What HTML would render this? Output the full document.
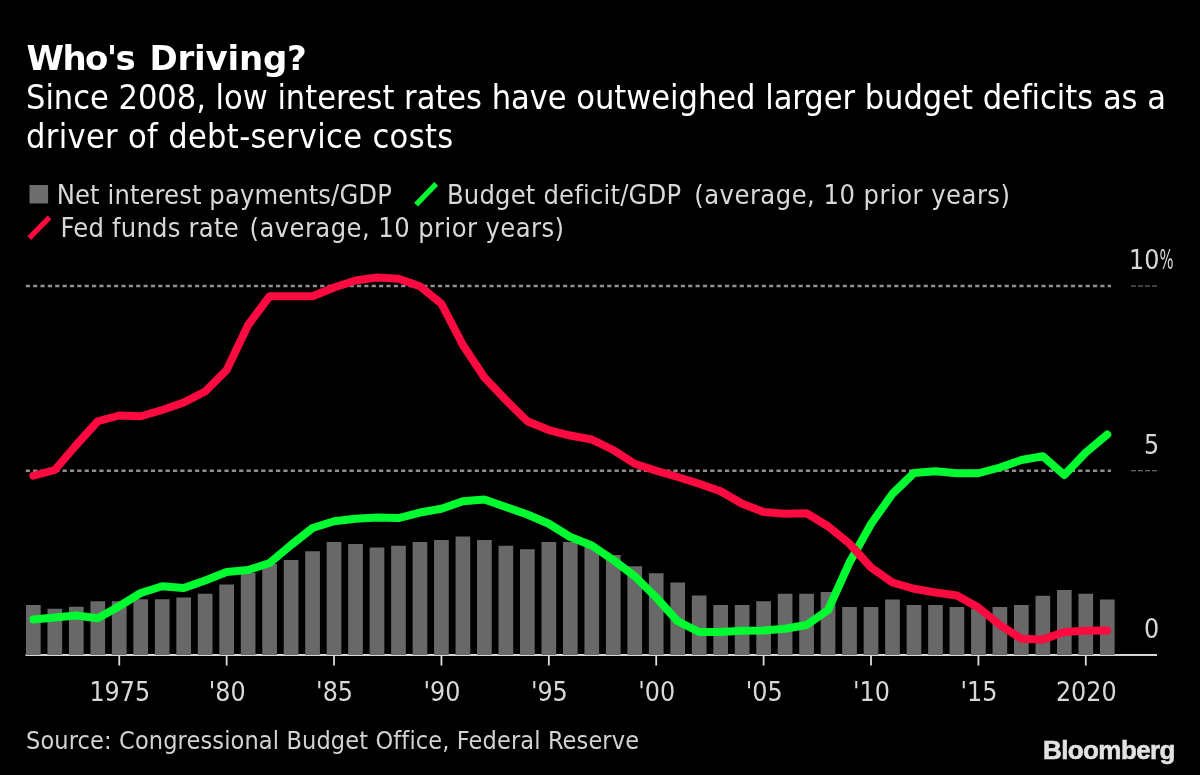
<!DOCTYPE html>
<html lang="en"><head><meta charset="utf-8"><title>Who's Driving?</title>
<style>
html,body{margin:0;padding:0;background:#000;}
body{width:1200px;height:775px;overflow:hidden;}
svg{display:block;will-change:transform}
text{font-family:"DejaVu Sans Condensed","DejaVu Sans","Liberation Sans",sans-serif;}
.ti{font-family:"DejaVu Sans","Liberation Sans",sans-serif;font-weight:bold;font-size:34px;fill:#fff;letter-spacing:-1px;word-spacing:6px}
.su{font-size:34px;fill:#fff;letter-spacing:-0.03px}
.su2{font-size:34px;fill:#fff;letter-spacing:0.33px}
.lg{font-size:27px;fill:#d8d8d8}
.ax{font-size:26.5px;fill:#d8d8d8}
.so{font-size:25px;fill:#d2d2d2;letter-spacing:0.14px}
.bb{font-family:"Liberation Sans",sans-serif;font-weight:bold;font-size:26px;fill:#e2e2e2;stroke:#e2e2e2;stroke-width:0.55px;letter-spacing:-0.6px}
</style></head>
<body>
<svg width="1200" height="775" viewBox="0 0 1200 775">
<line x1="25.75" x2="1111" y1="286" y2="286" stroke="#909090" stroke-width="2.4" stroke-dasharray="4.2 3.16"/>
<line x1="1131" x2="1158" y1="286" y2="286" stroke="#808080" stroke-width="1.1" stroke-dasharray="5 2"/>
<line x1="25.75" x2="1111" y1="470.75" y2="470.75" stroke="#909090" stroke-width="2.4" stroke-dasharray="4.2 3.16"/>
<line x1="1131" x2="1158" y1="470.75" y2="470.75" stroke="#808080" stroke-width="1.1" stroke-dasharray="5 2"/>
<rect x="25.5" y="654" width="1131.5" height="2" fill="#d6d6d6"/>
<rect x="25.98" y="605" width="14.7" height="50.00" fill="#686868"/>
<rect x="47.46" y="608.75" width="14.7" height="46.25" fill="#686868"/>
<rect x="68.94" y="606.75" width="14.7" height="48.25" fill="#686868"/>
<rect x="90.42" y="601.25" width="14.7" height="53.75" fill="#686868"/>
<rect x="111.90" y="601.25" width="14.7" height="53.75" fill="#686868"/>
<rect x="133.38" y="599.25" width="14.7" height="55.75" fill="#686868"/>
<rect x="154.85" y="599.25" width="14.7" height="55.75" fill="#686868"/>
<rect x="176.33" y="597.5" width="14.7" height="57.50" fill="#686868"/>
<rect x="197.81" y="593.75" width="14.7" height="61.25" fill="#686868"/>
<rect x="219.29" y="584.5" width="14.7" height="70.50" fill="#686868"/>
<rect x="240.77" y="573" width="14.7" height="82.00" fill="#686868"/>
<rect x="262.25" y="563.75" width="14.7" height="91.25" fill="#686868"/>
<rect x="283.73" y="560" width="14.7" height="95.00" fill="#686868"/>
<rect x="305.21" y="551.25" width="14.7" height="103.75" fill="#686868"/>
<rect x="326.69" y="542" width="14.7" height="113.00" fill="#686868"/>
<rect x="348.16" y="544" width="14.7" height="111.00" fill="#686868"/>
<rect x="369.64" y="547.5" width="14.7" height="107.50" fill="#686868"/>
<rect x="391.12" y="545.75" width="14.7" height="109.25" fill="#686868"/>
<rect x="412.60" y="542" width="14.7" height="113.00" fill="#686868"/>
<rect x="434.08" y="540" width="14.7" height="115.00" fill="#686868"/>
<rect x="455.56" y="536.5" width="14.7" height="118.50" fill="#686868"/>
<rect x="477.04" y="540" width="14.7" height="115.00" fill="#686868"/>
<rect x="498.52" y="545.75" width="14.7" height="109.25" fill="#686868"/>
<rect x="520.00" y="549.25" width="14.7" height="105.75" fill="#686868"/>
<rect x="541.48" y="542" width="14.7" height="113.00" fill="#686868"/>
<rect x="562.96" y="542" width="14.7" height="113.00" fill="#686868"/>
<rect x="584.43" y="547" width="14.7" height="108.00" fill="#686868"/>
<rect x="605.91" y="555" width="14.7" height="100.00" fill="#686868"/>
<rect x="627.39" y="566.25" width="14.7" height="88.75" fill="#686868"/>
<rect x="648.87" y="573.25" width="14.7" height="81.75" fill="#686868"/>
<rect x="670.35" y="582.5" width="14.7" height="72.50" fill="#686868"/>
<rect x="691.83" y="595.5" width="14.7" height="59.50" fill="#686868"/>
<rect x="713.31" y="605" width="14.7" height="50.00" fill="#686868"/>
<rect x="734.79" y="605" width="14.7" height="50.00" fill="#686868"/>
<rect x="756.27" y="601.25" width="14.7" height="53.75" fill="#686868"/>
<rect x="777.75" y="593.75" width="14.7" height="61.25" fill="#686868"/>
<rect x="799.22" y="593.75" width="14.7" height="61.25" fill="#686868"/>
<rect x="820.70" y="592" width="14.7" height="63.00" fill="#686868"/>
<rect x="842.18" y="607" width="14.7" height="48.00" fill="#686868"/>
<rect x="863.66" y="607" width="14.7" height="48.00" fill="#686868"/>
<rect x="885.14" y="599.5" width="14.7" height="55.50" fill="#686868"/>
<rect x="906.62" y="605" width="14.7" height="50.00" fill="#686868"/>
<rect x="928.10" y="605" width="14.7" height="50.00" fill="#686868"/>
<rect x="949.58" y="607" width="14.7" height="48.00" fill="#686868"/>
<rect x="971.06" y="608.75" width="14.7" height="46.25" fill="#686868"/>
<rect x="992.53" y="607" width="14.7" height="48.00" fill="#686868"/>
<rect x="1014.01" y="605" width="14.7" height="50.00" fill="#686868"/>
<rect x="1035.49" y="595.75" width="14.7" height="59.25" fill="#686868"/>
<rect x="1056.97" y="590" width="14.7" height="65.00" fill="#686868"/>
<rect x="1078.45" y="593.75" width="14.7" height="61.25" fill="#686868"/>
<rect x="1099.93" y="599.5" width="14.7" height="55.50" fill="#686868"/>
<line x1="119.25" x2="119.25" y1="655" y2="665.5" stroke="#dcdcdc" stroke-width="1.8"/>
<text x="119.75" y="701" text-anchor="middle" class="ax">1975</text>
<line x1="226.64" x2="226.64" y1="655" y2="665.5" stroke="#dcdcdc" stroke-width="1.8"/>
<text x="227.14" y="701" text-anchor="middle" class="ax">'80</text>
<line x1="334.04" x2="334.04" y1="655" y2="665.5" stroke="#dcdcdc" stroke-width="1.8"/>
<text x="334.54" y="701" text-anchor="middle" class="ax">'85</text>
<line x1="441.43" x2="441.43" y1="655" y2="665.5" stroke="#dcdcdc" stroke-width="1.8"/>
<text x="441.93" y="701" text-anchor="middle" class="ax">'90</text>
<line x1="548.83" x2="548.83" y1="655" y2="665.5" stroke="#dcdcdc" stroke-width="1.8"/>
<text x="549.33" y="701" text-anchor="middle" class="ax">'95</text>
<line x1="656.22" x2="656.22" y1="655" y2="665.5" stroke="#dcdcdc" stroke-width="1.8"/>
<text x="656.72" y="701" text-anchor="middle" class="ax">'00</text>
<line x1="763.62" x2="763.62" y1="655" y2="665.5" stroke="#dcdcdc" stroke-width="1.8"/>
<text x="764.12" y="701" text-anchor="middle" class="ax">'05</text>
<line x1="871.01" x2="871.01" y1="655" y2="665.5" stroke="#dcdcdc" stroke-width="1.8"/>
<text x="871.51" y="701" text-anchor="middle" class="ax">'10</text>
<line x1="978.41" x2="978.41" y1="655" y2="665.5" stroke="#dcdcdc" stroke-width="1.8"/>
<text x="978.91" y="701" text-anchor="middle" class="ax">'15</text>
<line x1="1085.80" x2="1085.80" y1="655" y2="665.5" stroke="#dcdcdc" stroke-width="1.8"/>
<text x="1086.30" y="701" text-anchor="middle" class="ax">2020</text>
<polyline points="33.33,619.5 54.81,617.5 76.29,615.5 97.77,618.25 119.25,606.25 140.72,593 162.20,586.25 183.68,588 205.16,580.5 226.64,572 248.12,570 269.60,563 291.08,545 312.56,528 334.04,521.25 355.51,518.75 376.99,517.5 398.47,518 419.95,512.5 441.43,508.75 462.91,501.25 484.39,499.5 505.87,507 527.35,514.5 548.83,523.75 570.31,537 591.78,545.5 613.26,560 634.74,576.25 656.22,597.5 677.70,621.25 699.18,632 720.66,632 742.14,630.75 763.62,630.5 785.10,628.75 806.57,625 828.05,610 849.53,562.5 871.01,524 892.49,493.75 913.97,473 935.45,471.25 956.93,473.25 978.41,473.25 999.88,467.5 1021.36,460 1042.84,456.25 1064.32,475 1085.80,452.5 1107.28,434.5" fill="none" stroke="#00fc30" stroke-width="8" stroke-linejoin="round" stroke-linecap="round"/>
<polyline points="33.33,475.75 54.81,470 76.29,445 97.77,421.25 119.25,415.5 140.72,416.25 162.20,410 183.68,402.5 205.16,391.5 226.64,370 248.12,325 269.60,296.25 291.08,296.25 312.56,296.25 334.04,287.5 355.51,280.5 376.99,277.5 398.47,278.75 419.95,286.25 441.43,303.75 462.91,345 484.39,377.5 505.87,400 527.35,421.25 548.83,430 570.31,435.5 591.78,439.5 613.26,450 634.74,463.75 656.22,470.75 677.70,477 699.18,483.75 720.66,491.25 742.14,503.75 763.62,512 785.10,513.75 806.57,513.25 828.05,526.25 849.53,543.75 871.01,567.5 892.49,582.5 913.97,588.75 935.45,592.5 956.93,595.5 978.41,607.5 999.88,625 1021.36,638.75 1042.84,639.5 1064.32,632 1085.80,630.75 1107.28,630.5" fill="none" stroke="#fc0a40" stroke-width="8" stroke-linejoin="round" stroke-linecap="round"/>
<text x="1129" y="269" class="ax">10</text>
<text transform="translate(1159.5,269) scale(0.62,1)" class="ax">%</text>
<text x="1144" y="454" class="ax">5</text>
<text x="1144" y="638" class="ax">0</text>
<rect x="29.5" y="185" width="18.6" height="18.5" fill="#6e6e6e"/>
<text x="56.75" y="203.5" class="lg" style="letter-spacing:0.11px">Net interest payments/GDP</text>
<line x1="416.1" y1="204.7" x2="436.2" y2="183.9" stroke="#00fc30" stroke-width="5.3"/>
<text y="203.5" class="lg"><tspan x="447" style="letter-spacing:0.2px">Budget deficit/GDP </tspan><tspan x="694.25" style="letter-spacing:0.49px">(average, 10 prior years)</tspan></text>
<line x1="29.2" y1="238.1" x2="49.5" y2="217.4" stroke="#fc0a40" stroke-width="5.3"/>
<text y="237" class="lg"><tspan x="60.5" style="letter-spacing:0.24px">Fed funds rate </tspan><tspan x="249.5" style="letter-spacing:0.44px">(average, 10 prior years)</tspan></text>
<text y="69.5" class="ti"><tspan x="26.5" style="letter-spacing:-1.6px">Who's </tspan><tspan x="149.5" style="letter-spacing:-0.2px">Driving?</tspan></text>
<text x="26" y="108.75" class="su">Since 2008, low interest rates have outweighed larger budget deficits as a</text>
<text x="26" y="147.5" class="su2">driver of debt-service costs</text>
<text x="26" y="748.5" class="so">Source: Congressional Budget Office, Federal Reserve</text>
<text x="1043" y="758.5" class="bb">Bloomberg</text>
</svg>
</body></html>
